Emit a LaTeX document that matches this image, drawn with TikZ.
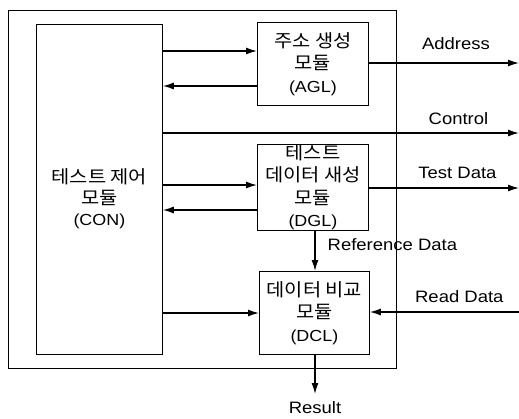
\documentclass[tikz,border=0pt]{standalone}
\usepackage{fontspec}
\setmainfont{Liberation Sans}[FakeStretch=1.12]
\newfontfamily\kr{Noto Sans CJK KR}[FakeStretch=1.1]
\usetikzlibrary{arrows.meta}
\tikzset{
  modbox/.style={draw,line width=0.8pt,anchor=north west,align=center,
    font=\kr\fontsize{18}{22.5}\selectfont,inner sep=0pt},
  modtxt/.style={align=center,font=\kr\fontsize{18}{21}\selectfont,inner sep=0pt},
  sig/.style={line width=1.4pt,-{Latex[length=11pt,width=7pt]}},
  lbl/.style={font=\fontsize{16.5}{18}\selectfont,inner sep=0pt}
}
\newcommand{\en}[1]{{\rmfamily\fontsize{16}{16}\selectfont #1}}
\begin{document}
\begin{tikzpicture}[x=1pt,y=-1pt]
            \useasboundingbox (0,0) rectangle (519,418);
            % outer frame
            \draw[line width=0.8pt] (8,10) rectangle (396,368);
            % modules
            \node[modbox,minimum width=126pt,minimum height=330pt] (con) at (36,24) {};
            \node[modtxt] (contxt) at ([yshift=-9pt]con.center)
                {테스트 제어\\모듈\\\en{(CON)}};
            \node[modbox,minimum width=111pt,minimum height=83pt] (agl) at (257,22)
                {주소 생성\\모듈\\\en{(AGL)}};
            \node[modbox,minimum width=111pt,minimum height=86pt] (dgl) at (257,144)
                {테스트\\데이터 새성\\모듈\\\en{(DGL)}};
            \node[modbox,minimum width=110pt,minimum height=83pt] (dcl) at (259,271)
                {데이터 비교\\모듈\\\en{(DCL)}};
            % free ends and levels
            \coordinate (yAa) at (0,51);
            \coordinate (yAb) at (0,86);
            \coordinate (yAd) at (0,63);
            \coordinate (yCt) at (0,133);
            \coordinate (yDa) at (0,185);
            \coordinate (yDb) at (0,210);
            \coordinate (yTd) at (0,188);
            \coordinate (yCa) at (0,313);
            \coordinate (xR) at (315,0);
            \coordinate (outAd) at (519,63);
            \coordinate (outCt) at (519,133);
            \coordinate (outTd) at (519,188);
            \coordinate (inRd) at (519,312);
            \coordinate (outRs) at (315,394);
            % signals
            \draw[sig] (con.east |- yAa) -- (agl.west |- yAa);
            \draw[sig] (agl.west |- yAb) -- (con.east |- yAb);
            \draw[sig] (agl.east |- yAd) -- (outAd) node[lbl,pos=0.58,above=13pt] {Address};
            \draw[sig] (con.east |- yCt) -- (outCt) node[lbl,pos=0.83,above=8pt] {Control};
            \draw[sig] (con.east |- yDa) -- (dgl.west |- yDa);
            \draw[sig] (dgl.west |- yDb) -- (con.east |- yDb);
            \draw[sig] (dgl.east |- yTd) -- (outTd) node[lbl,pos=0.59,above=9pt] {Test Data};
            \draw[sig] (dgl.south -| xR) -- (dcl.north -| xR)
                node[lbl,pos=0.35,right=12pt] {Reference Data};
            \draw[sig] (con.east |- yCa) -- (dcl.west |- yCa);
            \draw[sig] (inRd) -- (dcl.east |- inRd) node[lbl,pos=0.4,above=9pt] {Read Data};
            \draw[sig] (dcl.south -| xR) -- (outRs) node[lbl,below=7pt] {Result};
        \end{tikzpicture}
\end{document}
